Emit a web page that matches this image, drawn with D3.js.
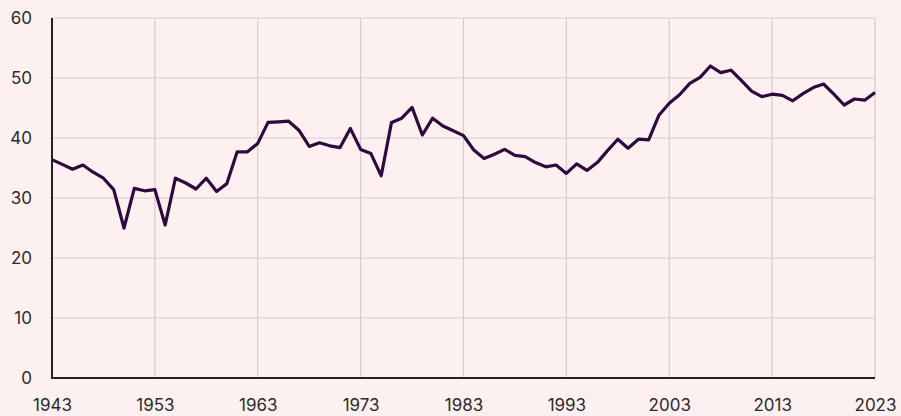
<!DOCTYPE html>
<html>
<head>
<meta charset="utf-8">
<script src="https://cdn.jsdelivr.net/npm/d3@7"></script>
<style>
  html, body { margin: 0; padding: 0; background: #fcf0f1; }
  svg { display: block; }
  .tick text { font-family: Inter, "Noto Sans", sans-serif; font-size: 17px; fill: #2b2b2b; }
</style>
</head>
<body>
<div id="chart"></div>
<script>
const years = d3.range(1943, 2024);
const values = [
  36.4, 35.6, 34.8, 35.5, 34.3, 33.3, 31.4, 25.0, 31.6, 31.2,
  31.4, 25.5, 33.3, 32.5, 31.5, 33.3, 31.1, 32.4, 37.7, 37.7,
  39.1, 42.6, 42.7, 42.8, 41.3, 38.6, 39.2, 38.7, 38.4, 41.6,
  38.1, 37.4, 33.7, 42.6, 43.3, 45.1, 40.5, 43.3, 42.0, 41.2,
  40.4, 38.0, 36.6, 37.3, 38.1, 37.1, 36.9, 35.9, 35.2, 35.5,
  34.1, 35.7, 34.6, 35.9, 37.9, 39.8, 38.3, 39.8, 39.7, 43.8,
  45.8, 47.2, 49.1, 50.1, 52.0, 50.9, 51.3, 49.6, 47.8, 46.9,
  47.3, 47.1, 46.2, 47.4, 48.4, 49.0, 47.3, 45.5, 46.5, 46.3,
  47.6
];
const xTicks = [1943, 1953, 1963, 1973, 1983, 1993, 2003, 2013, 2023];
const yTicks = [0, 10, 20, 30, 40, 50, 60];

const width = 901, height = 416;
const margin = { top: 18, right: 26, bottom: 38, left: 52 };

const svg = d3.select('#chart').append('svg')
  .attr('width', width)
  .attr('height', height);

svg.append('rect')
  .attr('width', width)
  .attr('height', height)
  .attr('fill', '#fcf0f1');

const x = d3.scaleLinear()
  .domain([1943, 2023])
  .range([margin.left, width - margin.right]);

const y = d3.scaleLinear()
  .domain([0, 60])
  .range([height - margin.bottom, margin.top]);

// gridlines
svg.append('g')
  .selectAll('line')
  .data(xTicks)
  .join('line')
  .attr('x1', d => x(d)).attr('x2', d => x(d))
  .attr('y1', y(0)).attr('y2', y(60))
  .attr('stroke', '#cfcfcf')
  .attr('stroke-width', 1.2);

svg.append('g')
  .selectAll('line')
  .data(yTicks)
  .join('line')
  .attr('x1', x(1943)).attr('x2', x(2023))
  .attr('y1', d => y(d)).attr('y2', d => y(d))
  .attr('stroke', '#cfcfcf')
  .attr('stroke-width', 1.2);

// axes
const xAxis = svg.append('g')
  .attr('transform', `translate(0,${y(0)})`)
  .call(d3.axisBottom(x).tickValues(xTicks).tickFormat(d3.format('d')).tickSize(0).tickPadding(21));
xAxis.select('.domain').remove();

const yAxis = svg.append('g')
  .attr('transform', `translate(${margin.left},0)`)
  .call(d3.axisLeft(y).tickValues(yTicks).tickSize(0).tickPadding(20));
yAxis.select('.domain').remove();

svg.append('line')
  .attr('x1', x(1943)).attr('x2', x(1943))
  .attr('y1', y(60)).attr('y2', y(0) + 1)
  .attr('stroke', '#222').attr('stroke-width', 2);

svg.append('line')
  .attr('x1', x(1943) - 1).attr('x2', x(2023))
  .attr('y1', y(0)).attr('y2', y(0))
  .attr('stroke', '#222').attr('stroke-width', 2);

// series line
const line = d3.line()
  .x((d, i) => x(years[i]))
  .y(d => y(d));

svg.append('path')
  .datum(values)
  .attr('d', line)
  .attr('fill', 'none')
  .attr('stroke', '#2e0a3d')
  .attr('stroke-width', 3.2)
  .attr('stroke-linejoin', 'round');
</script>
</body>
</html>
